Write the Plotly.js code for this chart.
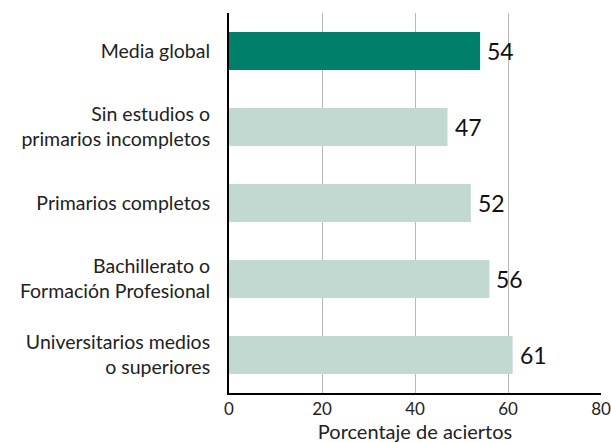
<!DOCTYPE html>
<html>
<head>
<meta charset="utf-8">
<script src="https://cdn.plot.ly/plotly-3.0.1.min.js"></script>
<style>html,body{margin:0;padding:0;background:#fff;}#chart{width:611px;height:443px;}</style>
</head>
<body>
<div id="chart"></div>
<script>
const categories = [
  "Media global",
  "Sin estudios o<br>primarios incompletos",
  "Primarios completos",
  "Bachillerato o<br>Formación Profesional",
  "Universitarios medios<br>o superiores"
];
const values = [54, 47, 52, 56, 61];
const barColors = ["#00806A", "#C2D9D1", "#C2D9D1", "#C2D9D1", "#C2D9D1"];
const tickVals = [0, 20, 40, 60, 80];
const xTitle = "Porcentaje de aciertos";

const trace = {
  type: "bar",
  orientation: "h",
  y: categories,
  x: values,
  marker: {color: barColors},
  hoverinfo: "none"
};

const annotations = categories.map((c, i) => ({
  x: values[i],
  y: c,
  xref: "x",
  yref: "y",
  text: String(values[i]),
  showarrow: false,
  xanchor: "left",
  yanchor: "middle",
  xshift: 5,
  font: {family: "Lato, sans-serif", size: 23, color: "#111"}
}));

const layout = {
  width: 611,
  height: 443,
  margin: {l: 229, r: 10, t: 13, b: 50},
  paper_bgcolor: "#fff",
  plot_bgcolor: "#fff",
  font: {family: "Lato, sans-serif", color: "#222"},
  bargap: 0.5,
  showlegend: false,
  annotations: annotations,
  xaxis: {
    range: [0, 80],
    tickvals: tickVals,
    ticktext: tickVals.map(String),
    showgrid: true,
    gridcolor: "#B8B8B8",
    gridwidth: 1,
    zeroline: false,
    showline: true,
    linecolor: "#000",
    linewidth: 2,
    ticks: "",
    tickfont: {size: 17, color: "#222"},
    title: {text: xTitle, font: {size: 20, color: "#222"}, standoff: 8}
  },
  yaxis: {
    autorange: "reversed",
    showgrid: false,
    zeroline: false,
    showline: true,
    linecolor: "#000",
    linewidth: 2,
    ticks: "",
    ticklabelstandoff: 13,
    tickfont: {size: 19.5, color: "#222"}
  }
};

Plotly.newPlot("chart", [trace], layout, {staticPlot: true, displayModeBar: false});
</script>
</body>
</html>
